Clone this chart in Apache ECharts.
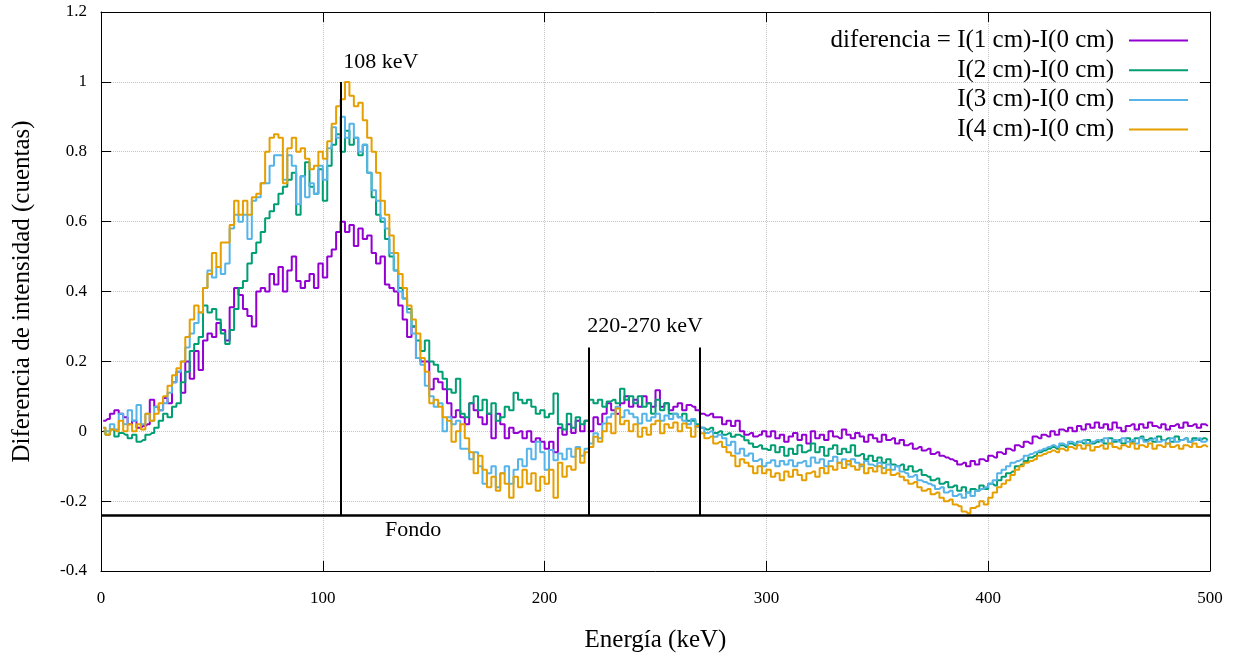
<!DOCTYPE html>
<html>
<head>
<meta charset="utf-8">
<script src="https://cdn.jsdelivr.net/npm/echarts@6/dist/echarts.min.js"></script>
<style>
  html, body { margin: 0; padding: 0; background: #fff; }
  #espectro { width: 1245px; height: 663px; }
</style>
</head>
<body>
<!-- diferencias de intensidad vs energía, 4 espesores -->
<div id="espectro"></div>
<script>
// ancho de canal en keV (cada valor es un canal)
const anchoBin = 2

const dif1cm = [
  0.03, 0.035, 0.05, 0.06, 0.05, 0.04, 0.02, 0.03, 0.01, 0.015, 0.02, 0.09, 0.07, 0.06, 0.095, 0.08, 0.14, 0.17, 0.11, 0.2, 0.15, 0.23, 0.175, 0.26, 0.28,
  0.27, 0.31, 0.29, 0.26, 0.355, 0.41, 0.39, 0.35, 0.33, 0.30, 0.40, 0.41, 0.40, 0.45, 0.42, 0.47, 0.40, 0.46, 0.50, 0.43, 0.41, 0.43, 0.45, 0.41, 0.48,
  0.44, 0.5, 0.52, 0.57, 0.60, 0.57, 0.59, 0.53, 0.58, 0.55, 0.56, 0.51, 0.48, 0.50, 0.42, 0.41, 0.40, 0.36, 0.32, 0.27, 0.30, 0.21, 0.20, 0.20, 0.12,
  0.15, 0.14, 0.12, 0.08, 0.04, 0.06, 0.04, 0.02, 0.08, 0.06, 0.04, 0.02, 0.05, -0.02, 0.05, 0.02, -0.02, 0.01, -0.005, 0.0, -0.02, 0.0, -0.03, -0.02, -0.03,
  -0.05, -0.03, -0.06, 0.01, -0.01, 0.02, -0.005, 0.03, 0.0, 0.03, 0.0, 0.04, 0.02, 0.05, 0.08, 0.06, 0.05, 0.08, 0.1, 0.07, 0.09, 0.07, 0.1, 0.08, 0.07,
  0.117, 0.07, 0.08, 0.06, 0.07, 0.08, 0.06, 0.075, 0.07, 0.06, 0.05, 0.045, 0.05, 0.04, 0.04, 0.02, 0.03, 0.015, 0.03, 0.0, -0.01, -0.005, -0.015, -0.01, 0.0,
  -0.015, 0.0, -0.02, -0.01, -0.03, -0.015, -0.005, -0.025, -0.01, -0.035, 0.0, -0.02, -0.01, -0.025, 0.0, -0.015, -0.02, 0.005, -0.01, -0.02, -0.005, -0.015, -0.03, -0.01, -0.02,
  -0.03, -0.01, -0.025, -0.02, -0.035, -0.025, -0.04, -0.035, -0.05, -0.045, -0.055, -0.05, -0.065, -0.06, -0.07, -0.075, -0.08, -0.085, -0.095, -0.09, -0.1, -0.085, -0.095, -0.08, -0.085,
  -0.07, -0.075, -0.06, -0.065, -0.05, -0.055, -0.04, -0.045, -0.03, -0.035, -0.015, -0.02, -0.01, -0.015, 0.0, -0.01, 0.005, 0.0, 0.01, 0.0, 0.015, 0.005, 0.02, 0.01, 0.025,
  0.01, 0.02, 0.005, 0.025, 0.01, 0.0, 0.015, 0.02, 0.005, 0.02, 0.01, 0.025, 0.015, 0.01, 0.02, 0.005, 0.015, 0.02, 0.01, 0.025, 0.015, 0.02, 0.01, 0.02, 0.015
]

const dif2cm = [
  0.0, -0.01, 0.005, -0.015, -0.005, -0.01, -0.02, -0.01, -0.03, -0.025, -0.01, -0.005, 0.01, 0.03, 0.05, 0.04, 0.07, 0.08, 0.14, 0.17, 0.23, 0.25, 0.27, 0.36, 0.34,
  0.35, 0.32, 0.28, 0.25, 0.29, 0.35, 0.41, 0.43, 0.48, 0.51, 0.54, 0.57, 0.61, 0.63, 0.65, 0.68, 0.70, 0.72, 0.74, 0.62, 0.73, 0.77, 0.70, 0.68, 0.75,
  0.66, 0.76, 0.82, 0.85, 0.80, 0.86, 0.82, 0.84, 0.79, 0.82, 0.74, 0.67, 0.62, 0.60, 0.55, 0.50, 0.46, 0.41, 0.38, 0.35, 0.30, 0.26, 0.23, 0.26, 0.20,
  0.19, 0.17, 0.15, 0.12, 0.11, 0.15, 0.05, 0.04, 0.08, 0.10, 0.06, 0.09, 0.05, 0.08, 0.03, 0.04, 0.07, 0.06, 0.11, 0.09, 0.08, 0.09, 0.07, 0.05, 0.06,
  0.04, 0.05, 0.108, 0.02, 0.005, 0.05, 0.01, 0.04, 0.02, 0.03, 0.09, 0.08, 0.09, 0.07, 0.085, 0.09, 0.08, 0.122, 0.09, 0.1, 0.08, 0.1, 0.07, 0.08, 0.05,
  0.09, 0.06, 0.08, 0.05, 0.05, 0.04, 0.05, 0.03, 0.03, 0.02, 0.01, 0.005, 0.01, -0.005, 0.0, -0.01, -0.006, -0.016, -0.01, -0.015, -0.026, -0.035, -0.045, -0.04, -0.05,
  -0.054, -0.04, -0.06, -0.045, -0.07, -0.05, -0.065, -0.04, -0.06, -0.055, -0.035, -0.06, -0.045, -0.07, -0.05, -0.04, -0.065, -0.05, -0.06, -0.04, -0.07, -0.065, -0.08, -0.07, -0.085,
  -0.075, -0.09, -0.08, -0.095, -0.1, -0.095, -0.11, -0.1, -0.115, -0.11, -0.125, -0.13, -0.14, -0.135, -0.15, -0.145, -0.16, -0.155, -0.17, -0.16, -0.175, -0.165, -0.17, -0.155, -0.165,
  -0.15, -0.155, -0.14, -0.13, -0.12, -0.115, -0.1, -0.095, -0.085, -0.075, -0.07, -0.06, -0.055, -0.05, -0.045, -0.05, -0.04, -0.045, -0.035, -0.04, -0.03, -0.035, -0.025, -0.035, -0.03,
  -0.025, -0.035, -0.02, -0.03, -0.025, -0.035, -0.02, -0.03, -0.02, -0.015, -0.025, -0.02, -0.03, -0.015, -0.025, -0.02, -0.03, -0.015, -0.025, -0.02, -0.03, -0.02, -0.025, -0.02, -0.025
]

const dif3cm = [
  0.01, 0.0, 0.02, 0.005, 0.05, 0.02, 0.06, 0.03, 0.075, 0.02, 0.05, 0.03, 0.07, 0.06, 0.08, 0.11, 0.14, 0.17, 0.2, 0.24, 0.28, 0.31, 0.34, 0.41, 0.46,
  0.44, 0.47, 0.45, 0.48, 0.58, 0.62, 0.6, 0.62, 0.55, 0.66, 0.67, 0.71, 0.71, 0.76, 0.79, 0.79, 0.72, 0.79, 0.76, 0.65, 0.73, 0.67, 0.71, 0.68, 0.76,
  0.72, 0.81, 0.87, 0.84, 0.9, 0.84, 0.88, 0.84, 0.8, 0.82, 0.74, 0.69, 0.66, 0.61, 0.58, 0.51, 0.46, 0.4, 0.38, 0.34, 0.28, 0.21, 0.19, 0.13, 0.1,
  0.07, 0.08, 0.0, 0.04, 0.02, 0.03, -0.05, -0.05, -0.08, -0.06, -0.1, -0.15, -0.12, -0.1, -0.16, -0.12, -0.1, -0.15, -0.11, -0.08, -0.1, -0.05, -0.08, -0.03, -0.06,
  -0.11, -0.054, -0.083, -0.064, -0.08, -0.05, -0.073, -0.045, -0.07, -0.05, -0.035, -0.006, -0.02, 0.022, 0.04, 0.05, 0.07, 0.04, 0.06, 0.05, 0.04, 0.022, 0.05, 0.03, 0.04,
  0.05, 0.03, 0.045, 0.035, 0.05, 0.04, 0.03, 0.02, 0.035, 0.012, 0.01, -0.005, 0.0, -0.016, -0.01, -0.02, -0.04, -0.03, -0.064, -0.05, -0.07, -0.064, -0.085, -0.08, -0.1,
  -0.09, -0.083, -0.1, -0.085, -0.095, -0.083, -0.1, -0.09, -0.085, -0.1, -0.075, -0.09, -0.08, -0.1, -0.085, -0.073, -0.09, -0.08, -0.095, -0.08, -0.09, -0.1, -0.085, -0.095, -0.1,
  -0.09, -0.105, -0.095, -0.11, -0.1, -0.115, -0.12, -0.13, -0.125, -0.14, -0.145, -0.15, -0.155, -0.165, -0.16, -0.175, -0.17, -0.185, -0.18, -0.19, -0.175, -0.185, -0.17, -0.165, -0.16,
  -0.15, -0.14, -0.12, -0.11, -0.1, -0.09, -0.085, -0.08, -0.07, -0.065, -0.06, -0.055, -0.05, -0.045, -0.04, -0.045, -0.035, -0.04, -0.03, -0.035, -0.03, -0.025, -0.035, -0.03, -0.025,
  -0.03, -0.02, -0.035, -0.025, -0.03, -0.02, -0.03, -0.025, -0.035, -0.02, -0.03, -0.025, -0.02, -0.03, -0.025, -0.035, -0.02, -0.03, -0.025, -0.02, -0.03, -0.025, -0.02, -0.03, -0.025
]

const dif4cm = [
  0.01, -0.01, 0.005, 0.0, 0.03, 0.0, 0.02, 0.0, 0.02, 0.005, 0.05, 0.03, 0.05, 0.08, 0.1, 0.13, 0.16, 0.18, 0.2, 0.27, 0.32, 0.36, 0.34, 0.41, 0.45,
  0.51, 0.47, 0.54, 0.54, 0.59, 0.66, 0.62, 0.66, 0.62, 0.67, 0.68, 0.71, 0.8, 0.84, 0.85, 0.84, 0.71, 0.81, 0.84, 0.8, 0.81, 0.78, 0.75, 0.76, 0.8,
  0.78, 0.83, 0.88, 0.93, 0.95, 1.0, 0.96, 0.93, 0.94, 0.89, 0.84, 0.8, 0.74, 0.66, 0.62, 0.56, 0.51, 0.45, 0.41, 0.36, 0.32, 0.28, 0.21, 0.17, 0.08,
  0.09, 0.07, 0.04, 0.03, -0.03, 0.0, 0.02, -0.02, -0.06, -0.12, -0.07, -0.11, -0.16, -0.13, -0.17, -0.12, -0.15, -0.19, -0.13, -0.16, -0.11, -0.15, -0.12, -0.17, -0.13,
  -0.15, -0.11, -0.19, -0.09, -0.13, -0.1, -0.11, -0.05, -0.09, -0.06, -0.045, -0.016, -0.03, 0.0, 0.022, -0.006, 0.065, 0.02, 0.03, 0.0, 0.02, -0.016, 0.01, -0.01, 0.02,
  0.03, -0.006, 0.02, 0.01, 0.025, 0.0, 0.022, 0.01, -0.016, 0.015, -0.006, -0.02, -0.015, -0.035, -0.03, -0.045, -0.06, -0.07, -0.1, -0.08, -0.09, -0.1, -0.12, -0.1, -0.12,
  -0.11, -0.13, -0.12, -0.14, -0.115, -0.13, -0.11, -0.125, -0.14, -0.12, -0.115, -0.13, -0.105, -0.12, -0.1, -0.11, -0.09, -0.105, -0.085, -0.1, -0.11, -0.095, -0.12, -0.105, -0.115,
  -0.1, -0.12, -0.11, -0.125, -0.12, -0.13, -0.14, -0.15, -0.145, -0.16, -0.17, -0.165, -0.18, -0.175, -0.19, -0.2, -0.195, -0.21, -0.215, -0.23, -0.235, -0.22, -0.215, -0.2, -0.21,
  -0.19, -0.175, -0.16, -0.15, -0.14, -0.125, -0.11, -0.1, -0.09, -0.085, -0.08, -0.07, -0.065, -0.06, -0.055, -0.06, -0.05, -0.055, -0.045, -0.05, -0.04, -0.05, -0.04, -0.055, -0.045,
  -0.04, -0.05, -0.035, -0.045, -0.05, -0.04, -0.045, -0.035, -0.05, -0.04, -0.045, -0.035, -0.05, -0.04, -0.045, -0.035, -0.045, -0.04, -0.05, -0.04, -0.045, -0.035, -0.045, -0.04, -0.045
]

// centro de cada canal
const energia = dif1cm.map((v, i) => anchoBin * i + anchoBin / 2)

const nombres = ['diferencia = I(1 cm)-I(0 cm)', 'I(2 cm)-I(0 cm)', 'I(3 cm)-I(0 cm)', 'I(4 cm)-I(0 cm)']
const colores = ['#9400d3', '#009e73', '#56b4e9', '#e69f00']
const difs = [dif1cm, dif2cm, dif3cm, dif4cm]

// líneas de referencia
const fondo = -0.24
const picoKeV = 108
const ventanaKeV = [220, 270]
const topeVentana = 0.24

const fuente = '"Liberation Serif", "DejaVu Serif", serif'

const ejeComun = {
  type: 'value',
  axisLine: { show: true, onZero: false, lineStyle: { color: '#000', width: 1 } },
  axisTick: { show: true, inside: true, length: 10, lineStyle: { color: '#000' } }
}

let series = difs.map((d, i) => ({
  name: nombres[i],
  type: 'line',
  step: 'middle',
  data: energia.map((e, k) => [e, d[k]]),
  symbol: 'none',
  lineStyle: { color: colores[i], width: 2 },
  itemStyle: { color: colores[i] },
  emphasis: { disabled: true },
  animation: false
}))

// fondo + marcas de 108 keV y ventana 220-270 keV
series.push({
  type: 'line',
  data: [],
  silent: true,
  animation: false,
  markLine: {
    silent: true,
    symbol: 'none',
    animation: false,
    label: { show: false },
    emphasis: { disabled: true },
    lineStyle: { color: '#000', width: 2, type: 'solid' },
    data: [
      [{ coord: [0, fondo] }, { coord: [500, fondo], lineStyle: { width: 2.5 } }],
      [{ coord: [picoKeV, fondo] }, { coord: [picoKeV, 1] }],
      [{ coord: [ventanaKeV[0], fondo] }, { coord: [ventanaKeV[0], topeVentana] }],
      [{ coord: [ventanaKeV[1], fondo] }, { coord: [ventanaKeV[1], topeVentana] }]
    ]
  }
})

let option = {
  backgroundColor: '#fff',
  grid: { left: 101, right: 35, top: 12, bottom: 92 },
  legend: nombres.map((n, i) => ({
    data: [n],
    right: 52,
    top: 23 + i * 29.7,
    orient: 'vertical',
    align: 'right',
    icon: 'rect',
    itemWidth: 59,
    itemHeight: 2,
    selectedMode: false,
    textStyle: { fontFamily: fuente, fontSize: 25, color: '#000', padding: [0, 10, 0, 0] }
  })),
  xAxis: [
    {
      ...ejeComun,
      min: 0,
      max: 500,
      interval: 100,
      position: 'bottom',
      name: 'Energía (keV)',
      nameLocation: 'middle',
      nameGap: 57,
      nameTextStyle: { fontFamily: fuente, fontSize: 25, color: '#000' },
      axisLabel: { fontFamily: fuente, fontSize: 17, color: '#000', margin: 19 },
      splitLine: { show: true, lineStyle: { color: '#c4c4c4', type: 'dotted', width: 1 } }
    },
    {
      ...ejeComun,
      min: 0,
      max: 500,
      interval: 100,
      position: 'top',
      axisLabel: { show: false },
      splitLine: { show: false }
    }
  ],
  yAxis: [
    {
      ...ejeComun,
      min: -0.4,
      max: 1.2,
      interval: 0.2,
      position: 'left',
      name: 'Diferencia de intensidad (cuentas)',
      nameLocation: 'middle',
      nameGap: 66,
      nameTextStyle: { fontFamily: fuente, fontSize: 25, color: '#000' },
      axisLabel: { fontFamily: fuente, fontSize: 17, color: '#000', margin: 14 },
      splitLine: { show: true, lineStyle: { color: '#c4c4c4', type: 'dotted', width: 1 } }
    },
    {
      ...ejeComun,
      min: -0.4,
      max: 1.2,
      interval: 0.2,
      position: 'right',
      axisLabel: { show: false },
      splitLine: { show: false }
    }
  ],
  series
}

let myChart = echarts.init(document.getElementById('espectro'))
myChart.setOption(option)

// textos de las marcas, ubicados con la escala del gráfico
const textos = [
  { t: '108 keV', pos: [109.2, 1.055], align: 'left' },
  { t: '220-270 keV', pos: [245.3, 0.301], align: 'center' },
  { t: 'Fondo', pos: [140.7, -0.284], align: 'center' }
]
myChart.setOption({
  graphic: textos.map(o => {
    const p = myChart.convertToPixel({ gridIndex: 0 }, o.pos)
    return {
      type: 'text',
      x: p[0],
      y: p[1],
      silent: true,
      style: { text: o.t, fontFamily: fuente, fontSize: 22, fill: '#000', align: o.align, verticalAlign: 'middle' }
    }
  })
})
</script>
</body>
</html>
